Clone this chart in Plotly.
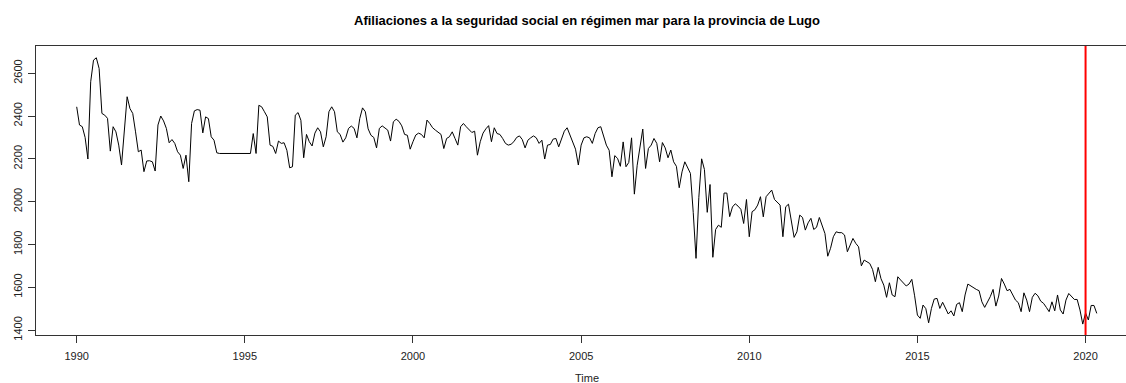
import numpy as np
import plotly.graph_objects as go

title_text = "Afiliaciones a la seguridad social en régimen mar para la provincia de Lugo"
x_label = "Time"
start_year = 1990
freq = 12
break_year = 2020

afiliaciones = [
    2443, 2358, 2350, 2300, 2199, 2560, 2661, 2672, 2622, 2412, 2404, 2389,
    2236, 2350, 2326, 2264, 2171, 2330, 2490, 2435, 2412, 2326, 2233, 2241,
    2140, 2190, 2191, 2186, 2143, 2358, 2400, 2377, 2342, 2275, 2290, 2272,
    2233, 2217, 2155, 2217, 2093, 2365, 2424, 2430, 2427, 2321, 2396, 2388,
    2303, 2287, 2228, 2225, 2225, 2225, 2225, 2225, 2225, 2225, 2225, 2225,
    2225, 2225, 2225, 2318, 2225, 2450, 2443, 2420, 2396, 2264, 2258, 2225,
    2283, 2272, 2275, 2240, 2158, 2163, 2404, 2416, 2380, 2205, 2314, 2280,
    2260, 2320, 2345, 2326, 2256, 2303, 2420, 2443, 2420, 2326, 2314, 2278,
    2298, 2342, 2353, 2342, 2298, 2388, 2438, 2420, 2340, 2310, 2300, 2251,
    2342, 2354, 2342, 2334, 2283, 2373, 2385, 2375, 2354, 2314, 2310, 2245,
    2280, 2311, 2320, 2314, 2298, 2381, 2365, 2345, 2334, 2323, 2314, 2248,
    2295, 2303, 2326, 2295, 2264, 2350, 2365, 2350, 2334, 2323, 2329, 2217,
    2280, 2320, 2340, 2355, 2280, 2345, 2318, 2314, 2295, 2272, 2264, 2268,
    2280, 2300, 2307, 2290, 2251, 2287, 2298, 2307, 2298, 2272, 2287, 2199,
    2264, 2267, 2292, 2295, 2256, 2295, 2329, 2345, 2314, 2280, 2245, 2171,
    2264, 2298, 2303, 2298, 2272, 2318, 2345, 2350, 2303, 2264, 2240, 2116,
    2215, 2202, 2165, 2279, 2163, 2183, 2298, 2035, 2170, 2250, 2339, 2155,
    2248, 2264, 2295, 2272, 2186, 2276, 2251, 2205, 2241, 2186, 2165, 2065,
    2139, 2186, 2155, 2132, 1950, 1735, 2020, 2200, 2150, 1950, 2080, 1740,
    1870, 1890, 1880, 2040, 2040, 1930, 1975, 1990, 1979, 1964, 1898, 2010,
    1836, 1953, 1962, 1984, 2023, 1929, 2023, 2038, 2054, 2010, 1995, 1984,
    1836, 1976, 1988, 1900, 1833, 1859, 1937, 1926, 1867, 1901, 1922, 1870,
    1880, 1926, 1890, 1851, 1745, 1782, 1836, 1859, 1855, 1855, 1844, 1766,
    1797, 1828, 1805, 1789, 1700, 1727, 1719, 1711, 1683, 1626, 1693, 1640,
    1610, 1553, 1621, 1564, 1556, 1649, 1634, 1618, 1606, 1615, 1637, 1560,
    1470, 1455, 1517, 1500, 1434, 1501, 1545, 1548, 1501, 1530, 1506, 1475,
    1490, 1466, 1520, 1528, 1486, 1564, 1615, 1606, 1599, 1590, 1584, 1532,
    1506, 1532, 1556, 1590, 1512, 1559, 1641, 1615, 1584, 1590, 1565, 1540,
    1528, 1486, 1574, 1540, 1486, 1553, 1572, 1560, 1535, 1525, 1506, 1486,
    1532, 1490, 1564, 1494, 1475, 1540, 1571, 1556, 1543, 1543, 1494, 1428,
    1480, 1447, 1515, 1515, 1478,
]

x_ticks = [1990, 1995, 2000, 2005, 2010, 2015, 2020]
y_ticks = [1400, 1600, 1800, 2000, 2200, 2400, 2600]

time = start_year + np.arange(len(afiliaciones)) / freq

font_family = "Liberation Sans, Arial, sans-serif"

fig = go.Figure()
fig.add_trace(go.Scatter(
    x=time, y=afiliaciones, mode="lines",
    line=dict(color="black", width=1), hoverinfo="x+y", showlegend=False,
))

fig.add_shape(type="line", xref="x", yref="paper", x0=break_year, x1=break_year,
              y0=0, y1=1, line=dict(color="red", width=2))

fig.update_layout(
    width=1126, height=383,
    margin=dict(l=36, r=0, t=46, b=48),
    paper_bgcolor="white", plot_bgcolor="white",
    font=dict(family=font_family, size=11, color="#222"),
    showlegend=False,
    annotations=[
        dict(text="<b>" + title_text + "</b>", xref="paper", yref="paper",
             x=(587 - 36) / 1090, y=1, yshift=26, showarrow=False,
             font=dict(size=13, color="black", family=font_family),
             xanchor="center", yanchor="middle"),
        dict(text=x_label, xref="paper", yref="paper", x=(587 - 36) / 1090, y=0,
             yshift=-43, showarrow=False, font=dict(size=11, color="#222"),
             xanchor="center", yanchor="middle"),
    ],
)

fig.update_xaxes(
    range=[1988.79, 1990 + (1126 - 77.6) / 33.6],
    tickvals=x_ticks, ticktext=[str(v) for v in x_ticks],
    ticks="outside", ticklen=7, tickcolor="#333", tickwidth=1,
    showline=True, linecolor="#333", linewidth=1, mirror=True,
    showgrid=False, zeroline=False, ticklabelstandoff=4,
)
fig.update_yaxes(
    range=[1377, 2727],
    tickvals=y_ticks, ticktext=[str(v) for v in y_ticks],
    tickangle=-90,
    ticks="outside", ticklen=7, tickcolor="#333", tickwidth=1,
    showline=True, linecolor="#333", linewidth=1, mirror=False,
    showgrid=False, zeroline=False, ticklabelstandoff=2,
)

fig.write_html("out.html")
